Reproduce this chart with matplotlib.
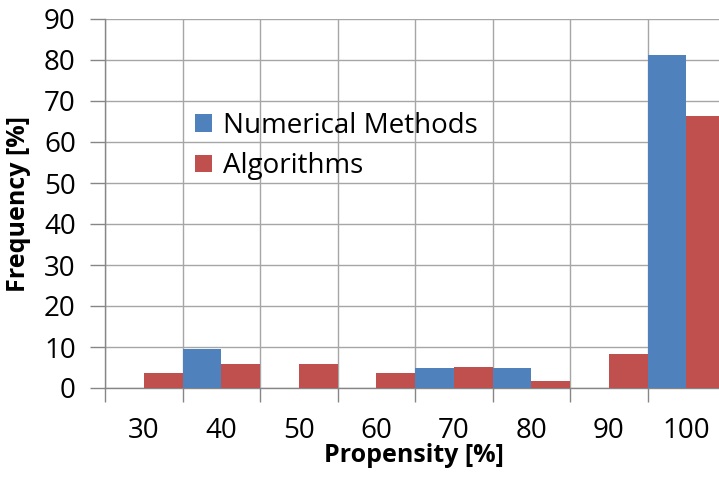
import numpy as np
import matplotlib
matplotlib.use("Agg")
import matplotlib.pyplot as plt

plt.rcParams['font.family'] = ['Open Sans', 'DejaVu Sans']

# data
categories = ['30', '40', '50', '60', '70', '80', '90', '100']
numerical = [0, 9.6, 0, 0, 4.9, 4.9, 0, 81.1]
algorithms = [3.6, 5.9, 5.9, 3.6, 5.2, 1.7, 8.4, 66.4]

BLUE = '#4F81BD'
RED = '#C0504D'
GRID = '#A6A6A6'
AXIS = '#868686'
FS = 20

W, H = 719, 479
fig = plt.figure(figsize=(W / 100, H / 100), dpi=100)
# plot area in pixels: left 105, right ~725 (cut by the image edge), top 19, bottom 388
ax = fig.add_axes([105 / W, (H - 388) / H, (725 - 105) / W, (388 - 19) / H])

x = np.arange(len(categories))
ax.bar(x - 0.25, numerical, width=0.5, color=BLUE, label='Numerical Methods', zorder=3)
ax.bar(x + 0.25, algorithms, width=0.5, color=RED, label='Algorithms', zorder=3)

ax.set_xlim(-0.5, len(categories) - 0.5)
ax.set_ylim(0, 90)

# category boundaries carry the tick marks and gridlines, labels sit in the middle
ax.set_xticks(np.arange(-0.5, len(categories), 1.0))
ax.set_xticklabels([])
ax.set_xticks(x, minor=True)
ax.set_xticklabels(categories, minor=True)
ax.tick_params(axis='x', which='major', direction='out', length=10, width=1, color=AXIS)
ax.tick_params(axis='x', which='minor', length=0, labelsize=FS, pad=21)

ax.set_yticks(np.arange(0, 91, 10))
ax.tick_params(axis='y', direction='out', length=11, width=1, color=AXIS, labelsize=FS, pad=10)

ax.grid(True, which='major', color=GRID, linewidth=1, zorder=0)
ax.set_axisbelow(True)

for s in ['top', 'right']:
    ax.spines[s].set_visible(False)
for s in ['left', 'bottom']:
    ax.spines[s].set_color(AXIS)
    ax.spines[s].set_linewidth(1)

fig.text(414 / W, 1 - 462 / H, 'Propensity [%]', fontsize=18, fontweight='bold',
         ha='center', va='baseline')
fig.text(25 / W, 1 - 204 / H, 'Frequency [%]', fontsize=18, fontweight='bold',
         rotation=90, rotation_mode='anchor', ha='center', va='baseline')

ax.legend(loc='upper left', bbox_to_anchor=(195 / W, 1 - 112 / H),
          bbox_transform=fig.transFigure, frameon=False, fontsize=FS,
          handlelength=0.61, handleheight=0.61, handletextpad=0.4,
          labelspacing=0.44, borderpad=0, borderaxespad=0)

fig.savefig('out.png', dpi=100)
